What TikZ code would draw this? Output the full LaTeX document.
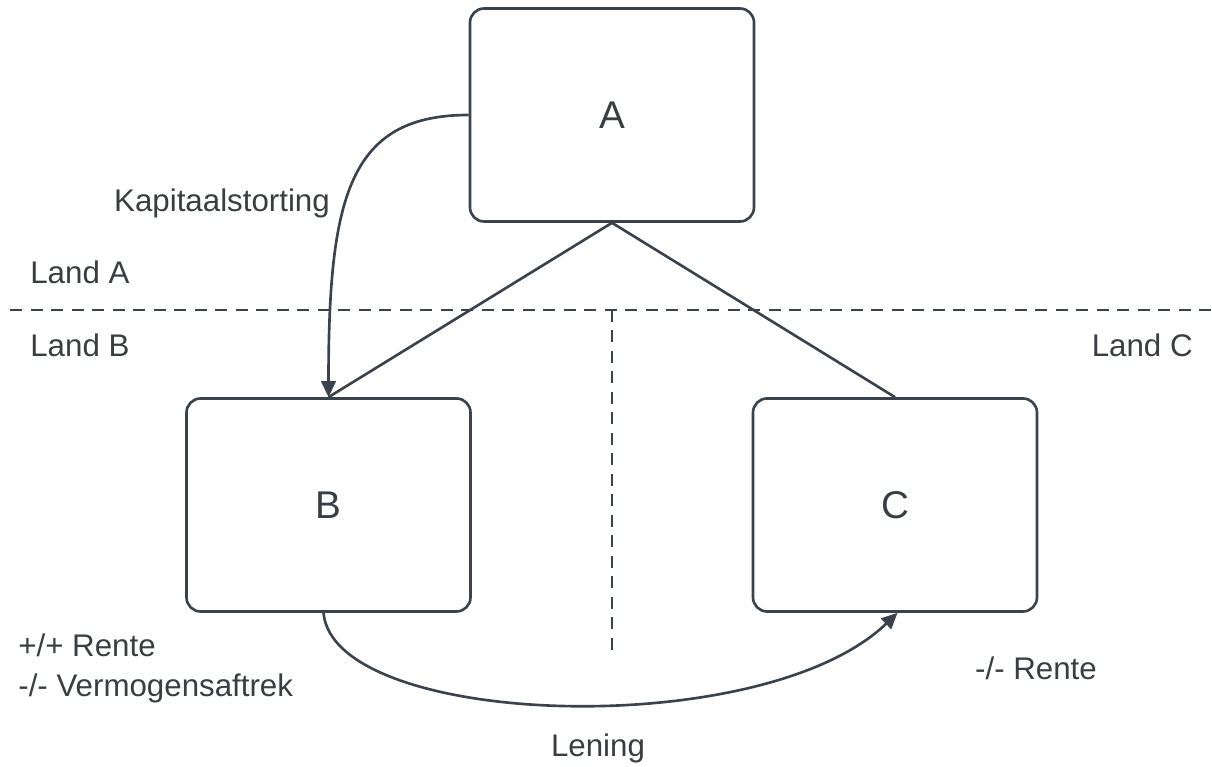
\documentclass[tikz,border=0pt]{standalone}
\usepackage{fontspec}
\setmainfont{Liberation Sans}
\usetikzlibrary{arrows.meta, positioning, calc}
\definecolor{linegray}{HTML}{3B424C}
\definecolor{textgray}{HTML}{3A3D42}
\tikzset{
  entity/.style={draw=linegray, rounded corners=8pt, minimum width=5.68cm, minimum height=4.26cm, fill=white, line width=1.5pt, font=\fontsize{22}{26}\selectfont, text=textgray},
  border/.style={draw=linegray, line width=1.5pt, dash pattern=on 0.24cm off 0.17cm},
  link/.style={draw=linegray, line width=1.5pt},
  flow/.style={link, -{Triangle[length=3.2mm, width=2.9mm]}},
  tag/.style={text=textgray, font=\fontsize{17.8}{22.7}\selectfont, inner sep=0pt}
}
\begin{document}
\begin{tikzpicture}
    \useasboundingbox (0,0) rectangle (24.24,15.34);

    % Country borders
    \coordinate (bl) at (0.2,9.14);
    \coordinate (br) at (24.24,9.14);
    \coordinate (bt) at (12.24,9.14);
    \coordinate (bb) at (12.24,2.3);
    \draw[border] (bl) -- (br);
    \draw[border] (bt) -- (bb);

    % Entities
    \node[entity] (A) at (12.24,13.04) {A};
    \node[entity] (B) at (6.57,5.24) {B};
    \node[entity] (C) at (17.9,5.24) {C};

    % Ownership
    \draw[link] (A.south) -- (B.north);
    \draw[link] (A.south) -- (C.north);

    % Flows
    \draw[flow] (A.west) .. controls +(-2.4,0) and +(0,4.0) .. (B.north);
    \draw[flow] ([xshift=-1mm]B.south) .. controls +(0.2,-2.3) and +(-2.7,-2.6) .. ([xshift=0.5mm]C.south);

    % Labels
    \node[tag] (kap) at (4.44,11.28) {Kapitaalstorting};
    \node[tag, anchor=west] (landA) at (0.6,9.9) {Land A};
    \node[tag, anchor=west] (landB) at (0.6,8.44) {Land B};
    \node[tag, anchor=east] (landC) at (23.86,8.44) {Land C};
    \node[tag, anchor=west, align=left] (renteB) at (0.36,1.98) {+/+ Rente\\-/- Vermogensaftrek};
    \node[tag] (renteC) at (20.72,1.98) {-/- Rente};
    \node[tag] (lening) at (11.96,0.38) {Lening};
\end{tikzpicture}
\end{document}
